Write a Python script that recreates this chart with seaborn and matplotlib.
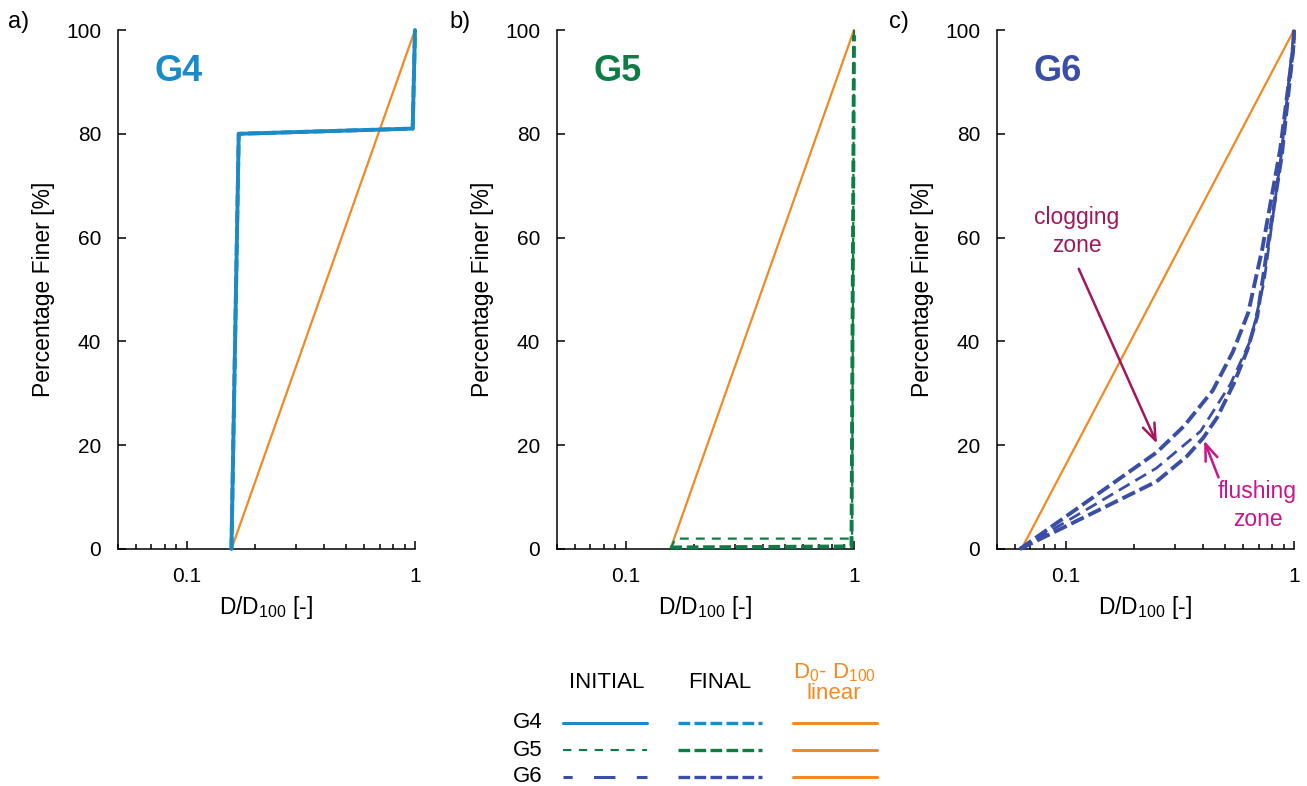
import numpy as np
import pandas as pd
import seaborn as sns
import matplotlib
matplotlib.use("Agg")
import matplotlib.pyplot as plt
from matplotlib.lines import Line2D
from matplotlib.ticker import FixedLocator, LogLocator, NullFormatter, NullLocator

sns.set_style("ticks")
plt.rcParams["font.family"] = ["Liberation Sans", "DejaVu Sans"]
plt.rcParams["mathtext.fontset"] = "custom"
plt.rcParams["mathtext.rm"] = "Liberation Sans"
plt.rcParams["mathtext.it"] = "Liberation Sans"
plt.rcParams["text.color"] = "black"
plt.rcParams["axes.labelcolor"] = "black"

# ---------------- data ----------------
# G4
g4_init_x = [0.157, 0.169, 0.977, 1.0]
g4_init_y = [0, 80, 81, 100]
g4_final_x = [0.157, 0.169, 0.977, 1.0]
g4_final_y = [0, 80, 81, 100]
g4_lin_x = [0.157, 1.0]
g4_lin_y = [0, 100]
# G5
g5_init_x = [0.157, 0.165, 0.98, 1.0]
g5_init_y = [0, 2, 2, 100]
g5_final_x = [0.157, 0.975, 1.0]
g5_final_y = [0.3, 0.5, 99]
g5_lin_x = [0.157, 1.0]
g5_lin_y = [0, 100]
# G6
g6_init_x = [0.063, 0.25, 0.39, 0.527, 0.646, 0.738, 0.88, 1.0]
g6_init_y = [0, 15.6, 22.7, 31.8, 40.3, 51.3, 76, 100]
g6_final_a_x = [0.063, 0.25, 0.33, 0.44, 0.54, 0.63, 0.726, 0.87, 0.995, 1.0]
g6_final_a_y = [0, 18.6, 23.7, 30.5, 38, 45.5, 57.8, 77, 97, 100]
g6_final_b_x = [0.063, 0.25, 0.34, 0.40, 0.46, 0.544, 0.624, 0.69, 0.764, 0.885, 0.995, 1.0]
g6_final_b_y = [0, 13, 17.9, 21.4, 25.3, 31.8, 38.3, 44.8, 57.8, 76, 97, 100]
g6_lin_x = [0.064, 1.0]
g6_lin_y = [0, 100]

panel_labels = ["a)", "b)", "c)"]
group_names = ["G4", "G5", "G6"]
x_ticks = [0.1, 1]
x_ticklabels = ["0.1", "1"]
y_ticks = [0, 20, 40, 60, 80, 100]

# annotation anchors (data units of panel c)
clog_text_xy = (0.1118, 61.2)
clog_tail_xy = (0.114, 54.0)
clog_head_xy = (0.251, 20.3)
flush_text_xy = (0.692, 8.4)
flush_tail_xy = (0.467, 13.8)
flush_head_xy = (0.404, 20.9)

# ---------------- styles ----------------
C_G4 = "#1b8bc8"
C_G5 = "#0c7d45"
C_G6 = "#3a4ea6"
C_OR = "#f28a24"
C_CLOG = "#a3175a"
C_FLUSH = "#c8168a"

fig = plt.figure(figsize=(13.07, 7.86), dpi=100)

ax_w = 297 / 1307
ax_h = (549 - 30) / 786
ax_b = 1 - 549 / 786
lefts = [118 / 1307, 557 / 1307, 997 / 1307]
axes = [fig.add_axes([l, ax_b, ax_w, ax_h]) for l in lefts]


def line(ax, x, y, color, lw, ls, z=3):
    df = pd.DataFrame({"x": x, "y": y})
    sns.lineplot(data=df, x="x", y="y", sort=False, estimator=None, color=color,
                 linewidth=lw, linestyle=ls, ax=ax, legend=False, clip_on=False,
                 zorder=z)


for ax in axes:
    ax.set_xscale("log")

THICK_DASH = (0, (3.0, 1.2))

# G4
line(axes[0], g4_lin_x, g4_lin_y, C_OR, 1.6, "-", 2)
line(axes[0], g4_init_x, g4_init_y, C_G4, 2.8, "-", 3)
line(axes[0], g4_final_x, g4_final_y, C_G4, 2.8, THICK_DASH, 4)
# G5
line(axes[1], g5_lin_x, g5_lin_y, C_OR, 1.6, "-", 2)
line(axes[1], g5_init_x, g5_init_y, C_G5, 1.6, (0, (4, 3.2)), 3)
line(axes[1], g5_final_x, g5_final_y, C_G5, 2.8, THICK_DASH, 4)
# G6
line(axes[2], g6_lin_x, g6_lin_y, C_OR, 1.6, "-", 2)
line(axes[2], g6_init_x, g6_init_y, C_G6, 2.0, (0, (4.5, 2.4)), 3)
line(axes[2], g6_final_a_x, g6_final_a_y, C_G6, 2.8, (0, (3.6, 1.3)), 4)
line(axes[2], g6_final_b_x, g6_final_b_y, C_G6, 2.8, (0, (3.6, 1.3)), 4)

title_colors = [C_G4, C_G5, C_G6]
for i, ax in enumerate(axes):
    ax.set_xlim(0.05, 1)
    ax.set_ylim(0, 100)
    ax.xaxis.set_major_locator(FixedLocator(x_ticks))
    ax.set_xticklabels(x_ticklabels)
    ax.xaxis.set_minor_locator(LogLocator(base=10, subs=np.arange(2, 10), numticks=20))
    ax.xaxis.set_minor_formatter(NullFormatter())
    ax.yaxis.set_major_locator(FixedLocator(y_ticks))
    ax.yaxis.set_minor_locator(NullLocator())
    ax.tick_params(which="major", direction="in", length=5.5, width=1.1,
                   labelsize=15, colors="black", pad=12)
    ax.tick_params(which="minor", direction="in", length=3.5, width=1.1, colors="black")
    ax.tick_params(axis="x", which="major", pad=13)
    for s in ["top", "right"]:
        ax.spines[s].set_visible(False)
    for s in ["left", "bottom"]:
        ax.spines[s].set_linewidth(1.1)
        ax.spines[s].set_color("black")
    ax.set_xlabel(r"D/D$_{100}$ [-]", fontsize=16.5, labelpad=6, color="black")
    ax.set_ylabel("Percentage Finer [%]", fontsize=16.5, labelpad=8, color="black")
    ax.text(0.204, 0.921, group_names[i], transform=ax.transAxes, fontsize=26,
            fontweight="bold", color=title_colors[i], ha="center", va="center")
    fig.text([8, 449, 889][i] / 1307, 1 - 22 / 786, panel_labels[i], fontsize=17,
             ha="left", va="center")

# annotations in panel c
axc = axes[2]
axc.text(*clog_text_xy, "clogging\nzone", color=C_CLOG, fontsize=16.5, ha="center",
         va="center", linespacing=1.25)
axc.annotate("", xy=clog_head_xy, xytext=clog_tail_xy,
             arrowprops=dict(arrowstyle="->,head_length=1.2,head_width=0.45",
                             color=C_CLOG, lw=1.8, shrinkA=0, shrinkB=0))
axc.text(*flush_text_xy, "flushing\nzone", color=C_FLUSH, fontsize=16.5, ha="center",
         va="center", linespacing=1.25)
axc.annotate("", xy=flush_head_xy, xytext=flush_tail_xy,
             arrowprops=dict(arrowstyle="->,head_length=1.2,head_width=0.45",
                             color=C_FLUSH, lw=1.8, shrinkA=0, shrinkB=0))

# ---------------- legend table ----------------
fs_leg = 15
px = fs_leg * 100 / 72
handles = [
    Line2D([], [], color=C_G4, lw=2.2, ls="-"),
    Line2D([], [], color=C_G5, lw=1.5, ls=(0, (4, 3.6))),
    Line2D([], [], color=C_G6, lw=2.2, ls=(0, (3, 7, 7, 7, 3, 0))),
    Line2D([], [], color=C_G4, lw=2.4, ls=(0, (3.5, 1.3))),
    Line2D([], [], color=C_G5, lw=2.4, ls=(0, (3.5, 1.3))),
    Line2D([], [], color=C_G6, lw=2.4, ls=(0, (3.5, 1.3))),
    Line2D([], [], color=C_OR, lw=2.2, ls="-"),
    Line2D([], [], color=C_OR, lw=2.2, ls="-"),
    Line2D([], [], color=C_OR, lw=2.2, ls="-"),
]
fig.legend(handles=handles, labels=[""] * 9, ncol=3, loc="upper left",
           bbox_to_anchor=(563 / 1307, 1 - 715 / 786), frameon=False,
           fontsize=fs_leg, handlelength=84 / px, handletextpad=0,
           columnspacing=31 / px, labelspacing=0.40, borderpad=0, borderaxespad=0)

for name, ypix in zip(group_names, [723, 750, 777]):
    fig.text(513 / 1307, 1 - ypix / 786, name, fontsize=16, ha="left", va="center")
fig.text(607 / 1307, 1 - 682 / 786, "INITIAL", fontsize=16, ha="center", va="center")
fig.text(720 / 1307, 1 - 682 / 786, "FINAL", fontsize=16, ha="center", va="center")
fig.text(834 / 1307, 1 - 683 / 786, "D$_0$- D$_{100}$\nlinear", fontsize=16,
         ha="center", va="center", color=C_OR, linespacing=0.95)

fig.savefig("out.png", dpi=100)
